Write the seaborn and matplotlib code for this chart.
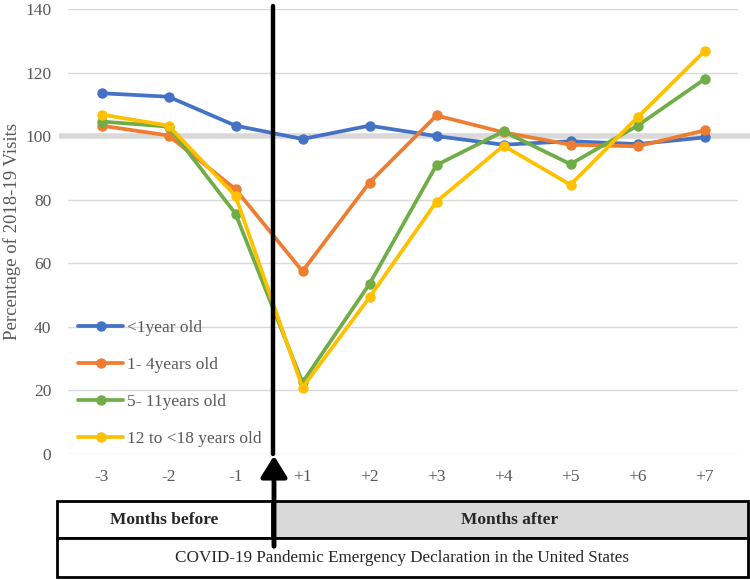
import matplotlib
matplotlib.use("Agg")
import matplotlib.pyplot as plt
from matplotlib.patches import Rectangle, FancyArrowPatch
import seaborn as sns
import pandas as pd

# months relative to the emergency declaration
months = ["-3", "-2", "-1", "+1", "+2", "+3", "+4", "+5", "+6", "+7"]

groups = ["<1year old", "1- 4years old", "5- 11years old", "12 to <18 years old"]
under1 = [113.5, 112.4, 103.3, 99.1, 103.3, 100.0, 97.3, 98.4, 97.5, 99.6]
age1_4 = [103.3, 100.2, 83.3, 57.5, 85.4, 106.5, 101.2, 97.3, 96.8, 101.8]
age5_11 = [104.6, 103.0, 75.6, 22.5, 53.5, 90.9, 101.5, 91.2, 103.3, 117.9]
age12_18 = [106.8, 103.3, 81.2, 20.9, 49.3, 79.4, 97.0, 84.7, 105.9, 126.7]

colors = ["#4472C4", "#ED7D31", "#70AD47", "#FFC000"]

rows = []
for g, vals in zip(groups, [under1, age1_4, age5_11, age12_18]):
    for i, v in enumerate(vals):
        rows.append({"pos": i, "pct": v, "group": g})
df = pd.DataFrame(rows)

sns.set_style("white")
plt.rcParams["font.family"] = ["Liberation Serif", "DejaVu Serif"]

fig = plt.figure(figsize=(7.5, 5.8), dpi=100)
W, H = 750, 580
ax = fig.add_axes([68 / W, 1 - 454 / H, 670 / W, 445 / H])

# reference line at 100%
ax.plot([-0.013, 1.018], [100, 100], color="#d9d9d9", lw=4, zorder=1,
        transform=ax.get_yaxis_transform(), clip_on=False, solid_capstyle="butt")

sns.lineplot(data=df, x="pos", y="pct", hue="group", palette=colors,
             marker="o", markersize=7.5, markeredgewidth=0, linewidth=2.7,
             ax=ax, zorder=3)

ax.set_xlim(-0.5, len(months) - 0.5)
ax.set_ylim(0, 140)
ax.set_yticks(range(0, 141, 20))
ax.set_xticks(range(len(months)))
ax.set_xticklabels(months)
ax.set_xlabel("")
ax.set_ylabel("Percentage of 2018-19 Visits", fontsize=13.5, color="#595959", labelpad=3)
ax.yaxis.grid(True, color="#d9d9d9", lw=1)
ax.set_axisbelow(True)
for s in ax.spines.values():
    s.set_visible(False)
ax.tick_params(axis="both", length=0, labelsize=12.5, colors="#595959")
ax.tick_params(axis="y", pad=12)
ax.tick_params(axis="x", pad=11)

handles, labels = ax.get_legend_handles_labels()
ax.legend(handles, labels, loc="upper left", bbox_to_anchor=(0.015, 0.302),
          frameon=False, fontsize=12.5, handlelength=2.6, handletextpad=0.2,
          labelspacing=1.2, borderpad=0, borderaxespad=0, labelcolor="#595959")

# declaration line between -1 and +1
decl = 2.56
ax.plot([decl, decl], [0, 141], color="black", lw=3.2, zorder=5, clip_on=False)

# bottom boxes (figure pixel coords)
def fx(px):
    return px / W

def fy(py):
    return 1 - py / H

left, right, top, mid, bot, split = 57, 748, 501, 538, 577, 272
fig.add_artist(Rectangle((fx(split), fy(mid)), fx(right) - fx(split), fy(top) - fy(mid),
                         transform=fig.transFigure, facecolor="#d9d9d9", edgecolor="black", lw=2))
fig.add_artist(Rectangle((fx(left), fy(mid)), fx(split) - fx(left), fy(top) - fy(mid),
                         transform=fig.transFigure, facecolor="white", edgecolor="black", lw=2))
fig.add_artist(Rectangle((fx(left), fy(bot)), fx(right) - fx(left), fy(mid) - fy(bot),
                         transform=fig.transFigure, facecolor="white", edgecolor="black", lw=2))
fig.text(fx((left + split) / 2), fy((top + mid) / 2), "Months before", ha="center", va="center",
         fontsize=12.5, fontweight="bold")
fig.text(fx((split + right) / 2), fy((top + mid) / 2), "Months after", ha="center", va="center",
         fontsize=12.5, fontweight="bold")
fig.text(fx((left + right) / 2), fy((mid + bot) / 2),
         "COVID-19 Pandemic Emergency Declaration in the United States",
         ha="center", va="center", fontsize=12.3)

# arrow pointing up to the axis
fig.add_artist(FancyArrowPatch(
    (fx(274), fy(549)), (fx(274), fy(453)), transform=fig.transFigure,
    arrowstyle="-|>,head_length=8,head_width=5", color="black", lw=3.5,
    mutation_scale=1.6, zorder=10))

fig.savefig("out.png", dpi=100)
